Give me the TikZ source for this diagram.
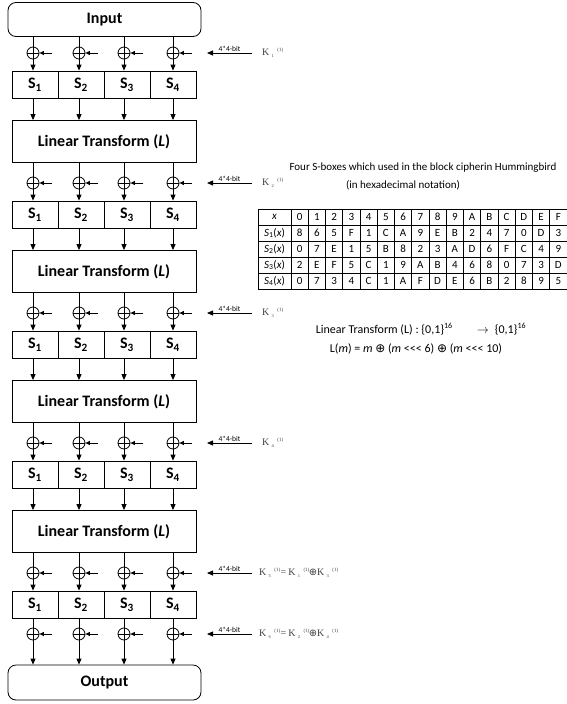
\documentclass[tikz,border=0pt]{standalone}
\usepackage{fontspec}
\setmainfont{Carlito}
\newfontfamily\kfont{Liberation Serif}
\newfontfamily\symfont{DejaVu Sans}
\usetikzlibrary{arrows.meta}
\newcommand{\keylab}[1]{K\kern2.2pt\raisebox{-2.2pt}{\fontsize{4.5}{4.5}\selectfont #1}\kern3.5pt\raisebox{4.2pt}{\fontsize{5}{5}\selectfont(1)}}
\newcommand{\xorsym}{{\symfont ⊕}}
\newcommand{\rotl}{<\kern0pt<\kern0pt<}
\tikzset{
  box/.style={draw, line width=0.8pt, inner sep=0pt, font=\fontsize{16}{16}\selectfont\bfseries},
  sbox/.style={box, minimum width=46pt, minimum height=27pt},
  ltbox/.style={box, minimum width=184pt, minimum height=42pt},
  iobox/.style={box, rounded corners=8pt, minimum width=193pt, minimum height=34pt},
  xor/.style={circle, draw, line width=0.8pt, minimum size=12pt, inner sep=0pt,
    path picture={\draw[line width=0.8pt] (path picture bounding box.west) -- (path picture bounding box.east);
                  \draw[line width=0.8pt] (path picture bounding box.north) -- (path picture bounding box.south);}},
  wire/.style={line width=0.8pt},
  flow/.style={line width=0.8pt, -{Triangle[length=6pt,width=5pt]}},
  keyin/.style={line width=0.8pt, -{Triangle[length=4.5pt,width=4pt]}},
  keyarrow/.style={line width=0.8pt, -{Triangle[length=6pt,width=5pt]}},
  bits/.style={above, inner sep=1.5pt, font=\fontsize{7.5}{7.5}\selectfont},
  klabel/.style={anchor=west, inner sep=0pt, text=black!75, font=\kfont\fontsize{10}{10}\selectfont},
  tline/.style={line width=0.75pt},
  tcell/.style={inner sep=0pt, font=\fontsize{11}{11}\selectfont},
  note/.style={inner sep=0pt, font=\fontsize{11}{13}\selectfont},
  formula/.style={inner sep=0pt, font=\fontsize{12}{14}\selectfont}
}
\begin{document}
\begin{tikzpicture}[x=1pt,y=-1pt]
\useasboundingbox (0,0) rectangle (567,704);

% input / output
\node[iobox] (in) at (104.5,19.5) {Input};
\node[iobox, minimum height=35pt] (out) at (104.5,682.5) {Output};

% rounds with S-boxes
\foreach \r/\y in {1/53,2/183,3/313,4/443,5/573} {
  \foreach \c/\cx in {1/33,2/79,3/124,4/173} {
    \node[xor] (x\r-\c) at (\cx,\y) {};
    \coordinate (k\r-\c) at (\cx+19,\y);
    \draw[keyin] (k\r-\c) -- (x\r-\c.east);
  }
  \foreach \c/\sx in {1/35,2/81,3/127,4/173} {
    \node[sbox] (s\r-\c) at (\sx,\y+31.5) {S\textsubscript{\c}};
  }
  \coordinate (ka\r) at (252,\y);
  \coordinate (kb\r) at (207,\y);
  \draw[keyarrow] (ka\r) -- node[bits] {4*4-bit} (kb\r);
}
\foreach \r/\y in {1/53,2/183,3/313,4/443} {
  \node[ltbox] (lt\r) at (104,\y+88.5) {Linear Transform (\textit{L})};
}
% last key addition
\foreach \c/\cx in {1/33,2/79,3/124,4/173} {
  \node[xor] (x6-\c) at (\cx,634) {};
  \coordinate (k6-\c) at (\cx+19,634);
  \draw[keyin] (k6-\c) -- (x6-\c.east);
}
\coordinate (ka6) at (252,634);
\coordinate (kb6) at (207,634);
\draw[keyarrow] (ka6) -- node[bits] {4*4-bit} (kb6);

% wires
\foreach \c in {1,2,3,4} {
  \draw[wire] (in.south -| x1-\c) -- (x1-\c.north);
  \foreach \r in {1,2,3,4,5} {
    \draw[flow] (x\r-\c.south) -- (s\r-\c.north -| x\r-\c);
  }
  \foreach \r [evaluate=\r as \n using int(\r+1)] in {1,2,3,4} {
    \draw[flow] (s\r-\c.south -| x\r-\c) -- (lt\r.north -| x\r-\c);
    \draw[wire] (lt\r.south -| x\n-\c) -- (x\n-\c.north);
  }
  \draw[wire] (s5-\c.south -| x6-\c) -- (x6-\c.north);
  \draw[flow] (x6-\c.south) -- (out.north -| x6-\c);
}

% key labels
\node[klabel] (kl1) at (262,53) {\keylab{1}};
\node[klabel] (kl2) at (262,183) {\keylab{2}};
\node[klabel] (kl3) at (262,313) {\keylab{3}};
\node[klabel] (kl4) at (262,443) {\keylab{4}};
\node[klabel] (kl5) at (259,573) {\keylab{5}\kern0.5pt=\kern2pt\keylab{1}\kern-0.5pt{\symfont\fontsize{10}{10}\selectfont ⊕}\kern0pt\keylab{3}};
\node[klabel] (kl6) at (259,634) {\keylab{6}\kern0.5pt=\kern2pt\keylab{2}\kern-0.5pt{\symfont\fontsize{10}{10}\selectfont ⊕}\kern0pt\keylab{4}};

% S-box table
\node[note] (title1) at (423,168) {Four S-boxes which used in the block cipherin Hummingbird};
\node[note] (title2) at (403,185) {(in hexadecimal notation)};
\foreach \yy in {209,225,241,257,273,289} {
  \draw[tline] (258,\yy) -- (567,\yy);
}
\draw[tline] (258,209) -- (258,289);
\foreach \k in {0,...,15} {
  \draw[tline] (291+17.25*\k,209) -- (291+17.25*\k,289);
}
\foreach \lab/\vals [count=\i] in {
  {\textit{x}}/{0,1,2,3,4,5,6,7,8,9,A,B,C,D,E,F},
  {\textit{S}\textsubscript{1}(\textit{x})}/{8,6,5,F,1,C,A,9,E,B,2,4,7,0,D,3},
  {\textit{S}\textsubscript{2}(\textit{x})}/{0,7,E,1,5,B,8,2,3,A,D,6,F,C,4,9},
  {\textit{S}\textsubscript{3}(\textit{x})}/{2,E,F,5,C,1,9,A,B,4,6,8,0,7,3,D},
  {\textit{S}\textsubscript{4}(\textit{x})}/{0,7,3,4,C,1,A,F,D,E,6,B,2,8,9,5}} {
  \node[tcell] (t\i-0) at (274.5,201+16*\i) {\lab};
  \foreach \v [count=\j] in \vals {
    \node[tcell] (t\i-\j) at (291+17.25*\j-8.625,201+16*\i) {\v};
  }
}

% linear transform definition
\node[formula] (ltdef) at (421,329) {Linear Transform (L) : \{0,1\}\textsuperscript{16}\qquad$\rightarrow$\; \{0,1\}\textsuperscript{16}};
\node[formula] (lteq) at (416,349) {L(\textit{m}) = \textit{m} \xorsym\ (\textit{m} \rotl\ 6) \xorsym\ (\textit{m} \rotl\ 10)};
\end{tikzpicture}
\end{document}
